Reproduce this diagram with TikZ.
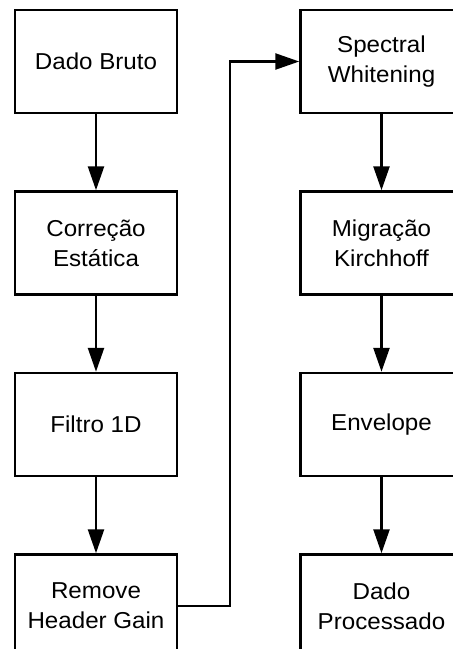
\documentclass[tikz,border=0pt]{standalone}
\usepackage{fontspec}
\setmainfont{Liberation Sans}[FakeStretch=1.05]
\usetikzlibrary{arrows.meta,positioning}

\begin{document}
\begin{tikzpicture}[
    x=1pt, y=1pt,
    node distance=76pt and 121pt,
    block_step/.style={
      rectangle,
      draw,
      line width=2.5pt,
      align=center,
      inner sep=0pt,
      minimum height=103pt,
      minimum width=162pt,
      font=\fontsize{23}{30}\selectfont
    },
    line/.style={draw, line width=2.5pt, -{Triangle[length=24pt,width=16pt]}}
  ]
  \useasboundingbox (0,0) rectangle (453,-649);

  % Nodes
  \node [block_step] (bruto) at (96,-61.5) {Dado Bruto};
  \node [block_step, below=of bruto] (estatica) {Correção\\Estática};
  \node [block_step, below=of estatica] (filtro) {Filtro 1D};
  \node [block_step, below=of filtro] (header) {Remove\\Header Gain};

  \node [block_step, right=of bruto] (whitening) {Spectral\\Whitening};
  \node [block_step, below=of whitening] (kirchhoff) {Migração\\Kirchhoff};
  \node [block_step, below=of kirchhoff] (envelope) {Envelope};
  \node [block_step, below=of envelope] (processado) {Dado\\Processado};

  \coordinate (bend) at (230,-330);

  % Arrows
  \draw[line] (bruto) -- (estatica);
  \draw[line] (estatica) -- (filtro);
  \draw[line] (filtro) -- (header);
  \draw[line] (header.east) -- (header.east -| bend) |- (whitening.west);
  \draw[line] (whitening) -- (kirchhoff);
  \draw[line] (kirchhoff) -- (envelope);
  \draw[line] (envelope) -- (processado);

\end{tikzpicture}
\end{document}
